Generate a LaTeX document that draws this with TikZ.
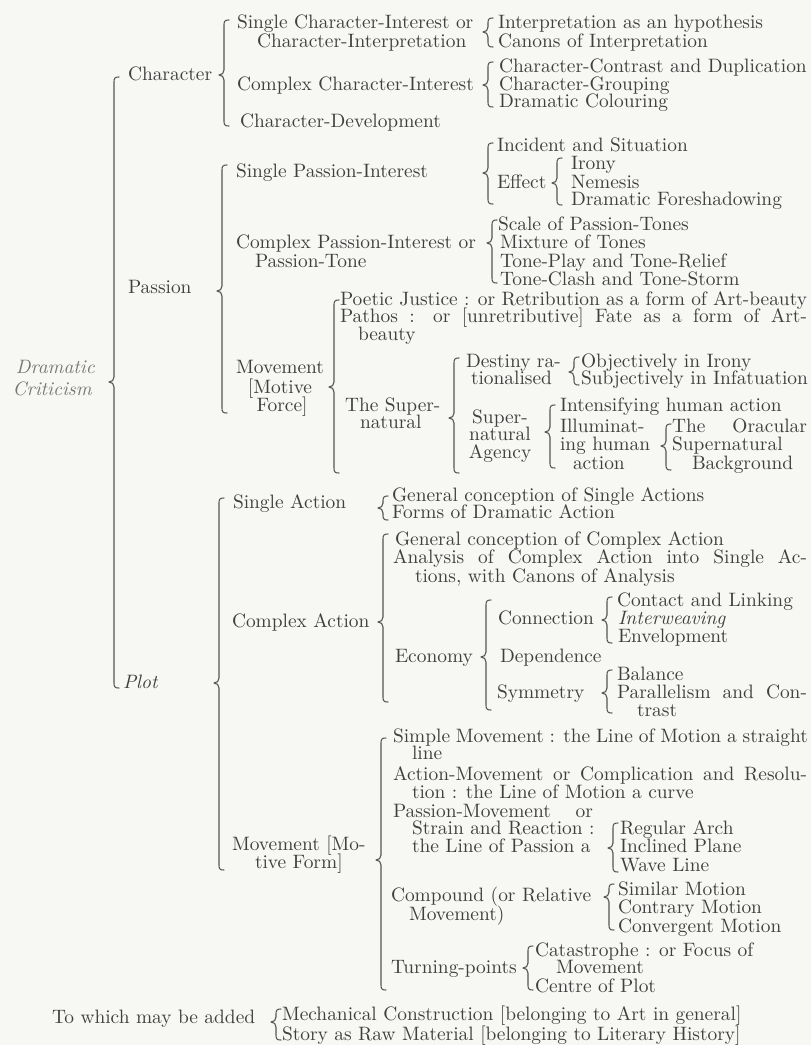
\documentclass[tikz,border=0pt]{standalone}
\usepackage{fontspec}
\setmainfont{lmroman10}[Extension=.otf, UprightFont=*-regular, ItalicFont=*-italic, BoldFont=*-bold]
\usepackage{tikz}
\definecolor{ink}{HTML}{3F3F3F}
\definecolor{paper}{HTML}{F7F7F4}
\definecolor{brk}{HTML}{555555}
\definecolor{ttl}{HTML}{777777}
\newcommand\mainf{\fontsize{19.4}{18}\selectfont}
\newcommand\J[2]{\makebox[#1pt][s]{#2}}
\newcommand\Brc[4]{\draw[brc] (#1+5,#2) .. controls (#1+1,#2) and (#1,#2+1) .. (#1,#2+5) -- (#1,#3-5) .. controls (#1,#3-2) and (#1-2,#3) .. (#1-5,#3) .. controls (#1-2,#3) and (#1,#3+2) .. (#1,#3+5) -- (#1,#4-5) .. controls (#1,#4-1) and (#1+1,#4) .. (#1+5,#4);}
\tikzset{
  tx/.style={anchor=base west, inner sep=0pt, outer sep=0pt, text=ink, font=\mainf},
  tcx/.style={tx, anchor=base},
  ttl/.style={anchor=base east, inner sep=0pt, text=ttl, font=\fontsize{19.4}{20}\selectfont\itshape},
  brc/.style={draw=brk, line width=1.1pt, line cap=round, line join=round}
}
\begin{document}
\begin{tikzpicture}[x=1pt,y=-1pt]
\fill[paper] (0,0) rectangle (811,1045);
\useasboundingbox (0,0) rectangle (811,1045);
% title
\node[ttl] (d1) at (95,373) {Dramatic};
\node[ttl] (d2) at (92,395) {Criticism};
% Character
\node[tx] (c0) at (128,80) {Character};
\node[tx] (c1a) at (237,28) {Single Character-Interest or};
\node[tx] (c1b) at (257,47) {Character-Interpretation};
\node[tx] (c1c) at (498,28) {Interpretation as an hypothesis};
\node[tx] (c1d) at (498,47) {Canons of Interpretation};
\node[tx] (c2) at (237,90) {Complex Character-Interest};
\node[tx] (c2a) at (499,72) {Character-Contrast and Duplication};
\node[tx] (c2b) at (499,90) {Character-Grouping};
\node[tx] (c2c) at (499,107) {Dramatic Colouring};
\node[tx] (c3) at (240,127) {Character-Development};
% Passion
\node[tx] (p0) at (128,293) {Passion};
\node[tx] (p1) at (236,177) {Single Passion-Interest};
\node[tx] (p1a) at (497,151) {Incident and Situation};
\node[tx] (p1b) at (497,188) {Effect};
\node[tx] (p1c) at (571,169) {Irony};
\node[tx] (p1d) at (571,188) {Nemesis};
\node[tx] (p1e) at (571,205) {Dramatic Foreshadowing};
\node[tx] (p2) at (236,248) {Complex Passion-Interest or};
\node[tx] (p2b) at (255,267) {Passion-Tone};
\node[tx] (p2c) at (498,230) {Scale of Passion-Tones};
\node[tx] (p2d) at (500,248) {Mixture of Tones};
\node[tx] (p2e) at (500,267) {Tone-Play and Tone-Relief};
\node[tx] (p2f) at (500,285) {Tone-Clash and Tone-Storm};
\node[tcx] (p3) at (280,373) {Movement};
\node[tcx] (p3b) at (280,393) {[Motive};
\node[tcx] (p3c) at (282,411) {Force]};
\node[tx] (p3d) at (340,305) {\J{467}{Poetic Justice : or Retribution as a form of Art-beauty}};
\node[tx] (p3e) at (340,322) {\J{467}{Pathos : or [unretributive] Fate as a form of Art-}};
\node[tx] (p3f) at (358,340) {beauty};
\node[tx] (p4) at (345,411) {The Super-};
\node[tx] (p4b) at (360,428) {natural};
\node[tx] (p4c) at (466,367) {Destiny ra-};
\node[tx] (p4d) at (471,384) {tionalised};
\node[tx] (p4e) at (581,367) {Objectively in Irony};
\node[tx] (p4f) at (581,384) {Subjectively in Infatuation};
\node[tcx] (p5) at (500,423) {Super-};
\node[tcx] (p5b) at (500,440) {natural};
\node[tcx] (p5c) at (500,458) {Agency};
\node[tx] (p5d) at (560,411) {Intensifying human action};
\node[tx] (p5e) at (560,432) {Illuminat-};
\node[tx] (p5f) at (560,450) {ing human};
\node[tx] (p5g) at (573,469) {action};
\node[tx] (p5h) at (672,432) {\J{135}{The Oracular}};
\node[tx] (p5i) at (672,450) {Supernatural};
\node[tx] (p5j) at (692,469) {Background};
% Plot
\node[tx] (q0) at (123,688) {\itshape Plot};
\node[tx] (q1) at (233,508) {Single Action};
\node[tx] (q1a) at (392,501) {General conception of Single Actions};
\node[tx] (q1b) at (392,518) {Forms of Dramatic Action};
\node[tx] (q2) at (232,627) {Complex Action};
\node[tx] (q2a) at (395,545) {General conception of Complex Action};
\node[tx] (q2b) at (393,563) {\J{414}{Analysis of Complex Action into Single Ac-}};
\node[tx] (q2c) at (415,582) {tions, with Canons of Analysis};
\node[tx] (q3) at (395,662) {Economy};
\node[tx] (q3a) at (498,624) {Connection};
\node[tx] (q3b) at (617,606) {Contact and Linking};
\node[tx] (q3c) at (618,624) {\itshape Interweaving};
\node[tx] (q3d) at (618,642) {Envelopment};
\node[tx] (q3e) at (500,662) {Dependence};
\node[tx] (q3f) at (497,698) {Symmetry};
\node[tx] (q3g) at (617,680) {Balance};
\node[tx] (q3h) at (617,698) {\J{190}{Parallelism and Con-}};
\node[tx] (q3i) at (637,716) {trast};
\node[tx] (q4) at (232,850) {Movement [Mo-};
\node[tx] (q4b) at (255,868) {tive Form]};
\node[tx] (q4c) at (393,742) {\J{415}{Simple Movement : the Line of Motion a straight}};
\node[tx] (q4d) at (412,759) {line};
\node[tx] (q4e) at (393,780) {\J{414}{Action-Movement or Complication and Resolu-}};
\node[tx] (q4f) at (412,798) {tion : the Line of Motion a curve};
\node[tx] (q4g) at (393,817) {\J{200}{Passion-Movement or}};
\node[tx] (q4h) at (412,834) {Strain and Reaction :};
\node[tx] (q4i) at (412,852) {the Line of Passion a};
\node[tx] (q4j) at (620,834) {Regular Arch};
\node[tx] (q4k) at (620,852) {Inclined Plane};
\node[tx] (q4l) at (620,871) {Wave Line};
\node[tx] (q5) at (391,901) {Compound (or Relative};
\node[tx] (q5b) at (409,920) {Movement)};
\node[tx] (q5c) at (618,895) {Similar Motion};
\node[tx] (q5d) at (618,913) {Contrary Motion};
\node[tx] (q5e) at (618,932) {Convergent Motion};
\node[tx] (q6) at (391,973) {Turning-points};
\node[tx] (q6a) at (535,956) {Catastrophe : or Focus of};
\node[tx] (q6b) at (556,973) {Movement};
\node[tx] (q6c) at (535,992) {Centre of Plot};
\node[tx] (r0) at (52,1023) {To which may be added};
\node[tx] (r1) at (282,1020) {Mechanical Construction [belonging to Art in general]};
\node[tx] (r2) at (282,1040) {Story as Raw Material [belonging to Literary History]};
% braces
\Brc{114}{77}{382}{688}
\Brc{224}{20}{75}{126}
\Brc{488}{18}{32}{47}
\Brc{488}{62}{85}{107}
\Brc{222}{165}{291}{413}
\Brc{488}{143}{173}{204}
\Brc{557}{158}{183}{205}
\Brc{492}{220}{243}{283}
\Brc{334}{300}{387}{473}
\Brc{454}{358}{418}{473}
\Brc{574}{357}{372}{385}
\Brc{550}{405}{432}{468}
\Brc{666}{424}{446}{470}
\Brc{219}{498}{683}{870}
\Brc{383}{496}{508}{520}
\Brc{383}{534}{622}{702}
\Brc{486}{600}{657}{710}
\Brc{607}{597}{620}{643}
\Brc{607}{670}{693}{713}
\Brc{381}{738}{860}{990}
\Brc{613}{823}{848}{872}
\Brc{609}{884}{897}{930}
\Brc{528}{946}{968}{990}
\Brc{276}{1009}{1022}{1040}
\end{tikzpicture}
\end{document}
